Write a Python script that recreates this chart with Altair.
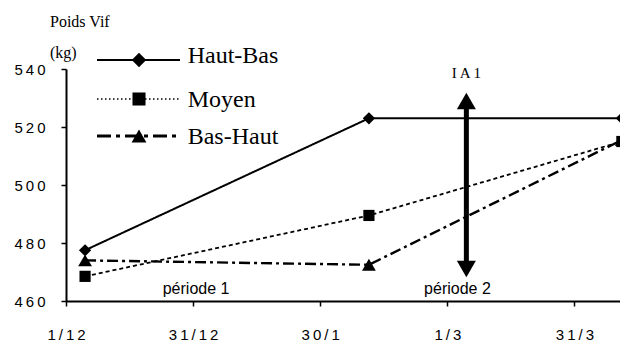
import altair as alt
import pandas as pd

# ---- data ----
series_names = ["Haut-Bas", "Moyen", "Bas-Haut"]
days = [4.5, 71.5, 131.2]            # days after 1/12
haut_bas = [477.5, 523.0, 523.0]
moyen = [468.5, 489.5, 515.0]
bas_haut = [474.0, 472.5, 515.5]

x_tick_values = [0, 30, 60, 90, 120]
x_tick_labels = ["1/12", "31/12", "30/1", "1/3", "31/3"]
y_tick_values = [460, 480, 500, 520, 540]

arrow_day = [94.5]
arrow_low = [471.0]
arrow_high = [529.0]
ia_text = ["I\u2009A 1"]
ia_level = [538.6]

period_labels = ["période 1", "période 2"]
period_days = [30.7, 92.4]
period_level = [464.1, 464.1]

# ---- styles ----
styles = {
    "Haut-Bas": dict(shape="diamond", dash=[1, 0], width=2, size=150, lsize=210,
                     ldash=[1, 0], lwidth=2),
    "Moyen": dict(shape="square", dash=[4, 3], width=1.8, size=125, lsize=170,
                  ldash=[1.5, 2.5], lwidth=1.6),
    "Bas-Haut": dict(shape="triangle-up", dash=[11, 4, 3, 4], width=2.4, size=190,
                     lsize=220, ldash=[14, 5, 4, 5], lwidth=3),
}

def spaced(s):
    return "\u2009".join(s)

def label_expr(values, labels):
    expr = "''"
    for v, l in reversed(list(zip(values, labels))):
        expr = f"datum.value == {v} ? '{l}' : {expr}"
    return expr

PLOT_W = 554
xscale = alt.Scale(domain=[0, PLOT_W / 127.1 * 30], nice=False, zero=False)
yscale = alt.Scale(domain=[460, 540], nice=False, zero=False)

x_axis = alt.Axis(values=x_tick_values, labelExpr=label_expr(x_tick_values, [spaced(l) for l in x_tick_labels]),
                  title=None, grid=False, domainColor="black", domainWidth=2, labelFlush=False,
                  tickColor="black", tickWidth=1.5, tickSize=5, labelFont="Liberation Sans",
                  labelFontSize=15, labelColor="black", labelPadding=21)
y_axis = alt.Axis(values=y_tick_values, labelExpr=label_expr(y_tick_values, [spaced(str(v)) for v in y_tick_values]),
                  title=None, grid=False, domainColor="black", domainWidth=2, labelFlush=False,
                  tickColor="black", tickWidth=1.5, tickSize=5, labelFont="Liberation Sans",
                  labelFontSize=15, labelColor="black", labelPadding=16)

values = {"Haut-Bas": haut_bas, "Moyen": moyen, "Bas-Haut": bas_haut}

layers = []
base_df = pd.DataFrame({"day": days, "w": haut_bas})
layers.append(alt.Chart(base_df).mark_point(opacity=0).encode(
    x=alt.X("day:Q", scale=xscale, axis=x_axis),
    y=alt.Y("w:Q", scale=yscale, axis=y_axis)))

for name in series_names:
    st = styles[name]
    df = pd.DataFrame({"day": days, "w": values[name]})
    layers.append(alt.Chart(df).mark_line(color="black", strokeWidth=st["width"], strokeDash=st["dash"]).encode(
        x=alt.X("day:Q", scale=xscale), y=alt.Y("w:Q", scale=yscale)))

for name in ["Bas-Haut", "Moyen", "Haut-Bas"]:
    st = styles[name]
    df = pd.DataFrame({"day": days, "w": values[name]})
    layers.append(alt.Chart(df).mark_point(shape=st["shape"], filled=True, color="black", opacity=1, size=st["size"]).encode(
        x=alt.X("day:Q", scale=xscale), y=alt.Y("w:Q", scale=yscale)))

# arrow IA 1
arr = pd.DataFrame({"day": arrow_day, "lo": arrow_low, "hi": arrow_high, "t": ia_text, "ty": ia_level})
layers.append(alt.Chart(arr).mark_rule(color="black", strokeWidth=5).encode(
    x=alt.X("day:Q", scale=xscale), y=alt.Y("lo:Q", scale=yscale), y2="hi:Q"))
layers.append(alt.Chart(arr).mark_point(shape="triangle-up", filled=True, color="black", opacity=1, size=361).encode(
    x=alt.X("day:Q", scale=xscale), y=alt.Y("hi:Q", scale=yscale)))
layers.append(alt.Chart(arr).mark_point(shape="triangle-down", filled=True, color="black", opacity=1, size=361).encode(
    x=alt.X("day:Q", scale=xscale), y=alt.Y("lo:Q", scale=yscale)))
layers.append(alt.Chart(arr).mark_text(font="Liberation Serif", fontSize=15, color="black", baseline="middle").encode(
    x=alt.X("day:Q", scale=xscale), y=alt.Y("ty:Q", scale=yscale), text="t:N"))

# period labels
per = pd.DataFrame({"day": period_days, "w": period_level, "t": period_labels})
layers.append(alt.Chart(per).mark_text(font="Liberation Sans", fontSize=16, color="black", baseline="middle").encode(
    x=alt.X("day:Q", scale=xscale), y=alt.Y("w:Q", scale=yscale), text="t:N"))

# y title
for txt, ypx in [("Poids Vif", -42), ("(kg)", -11)]:
    layers.append(alt.Chart(pd.DataFrame({"t": [txt]})).mark_text(
        font="Liberation Serif", fontSize=16, color="black", align="left", baseline="alphabetic").encode(
        x=alt.value(-16), y=alt.value(ypx), text="t:N"))

# legend
leg_line_y = [-9, 30, 67]
leg_text_y = [-6.3, 37.7, 75]
for i, name in enumerate(series_names):
    st = styles[name]
    ldf = pd.DataFrame({"t": [name]})
    layers.append(alt.Chart(ldf).mark_rule(color="black", strokeWidth=st["lwidth"], strokeDash=st["ldash"]).encode(
        x=alt.value(31), x2=alt.value(114), y=alt.value(leg_line_y[i])))
    layers.append(alt.Chart(ldf).mark_point(shape=st["shape"], filled=True, color="black", opacity=1, size=st["lsize"]).encode(
        x=alt.value(73), y=alt.value(leg_line_y[i])))
    layers.append(alt.Chart(ldf).mark_text(font="Liberation Serif", fontSize=24, color="black", align="left",
                                           baseline="alphabetic").encode(
        x=alt.value(121.7), y=alt.value(leg_text_y[i]), text="t:N"))

chart = alt.layer(*layers).properties(
    width=PLOT_W, height=232,
    autosize=alt.AutoSizeParams(type="none"),
    padding={"left": 58, "top": 61, "right": 0, "bottom": 42},
    background="white",
).configure_view(stroke=None)

chart.save("out.html", embed_options={"renderer": "svg", "actions": False})
